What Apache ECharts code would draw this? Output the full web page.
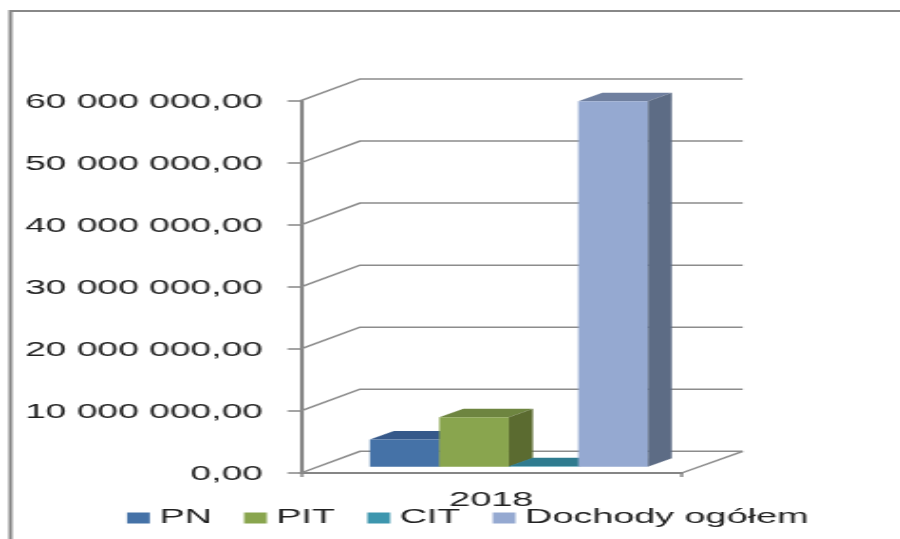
<!DOCTYPE html>
<html>
<head>
<meta charset="utf-8">
<style>
html,body{margin:0;padding:0;background:#fff;width:900px;height:539px;overflow:hidden}
#c{width:474px;height:539px;transform-origin:0 0;transform:scaleX(1.8987)}
</style>
<script src="https://cdn.jsdelivr.net/npm/echarts@6/dist/echarts.min.js"></script>
</head>
<body>
<div id="c"></div>
<script>
const categories = ['2018'];
const seriesNames = ['PN', 'PIT', 'CIT', 'Dochody ogółem'];
const pn = [4400000];
const pit = [7970000];
const cit = [100000];
const dochody = [58900000];
const yTicks = [0, 10000000, 20000000, 30000000, 40000000, 50000000, 60000000];
const frontColors = ['#4572A7', '#89A54E', '#3D96AE', '#95A9D1'];
const topColors = ['#36598A', '#6E8540', '#2F7B8F', '#6F7F9F'];
const sideColors = ['#2F4E75', '#5B6B30', '#276A7B', '#5D6C85'];

const S = 900 / 474;
const WALL_DX = 59 / S, WALL_DY = -21.7;
const WALL_EXTRA = 2 / S;
const BAR_DX = 24 / S, BAR_DY = -8.5;
const BASE_DY = -6.2;
const BAR_START = 0.181, BAR_W = 0.1825;

function barSeries(i, values) {
  return {
    name: seriesNames[i],
    type: 'custom',
    coordinateSystem: 'cartesian2d',
    clip: false,
    itemStyle: { color: frontColors[i] },
    encode: { x: 0, y: 1 },
    data: categories.map((c, k) => [c, values[k]]),
    renderItem(params, api) {
      const cat = api.value(0);
      const band = api.size([1, 0])[0];
      const top = api.coord([cat, api.value(1)]);
      const zero = api.coord([cat, 0]);
      const left = top[0] - band / 2 + (BAR_START + BAR_W * i) * band;
      const w = BAR_W * band;
      const yt = top[1] + BASE_DY, yb = zero[1] + BASE_DY;
      return {
        type: 'group',
        children: [
          { type: 'polygon', shape: { points: [[left, yt], [left + w, yt], [left + w + BAR_DX, yt + BAR_DY], [left + BAR_DX, yt + BAR_DY]] }, style: { fill: topColors[i] } },
          { type: 'polygon', shape: { points: [[left + w, yt], [left + w + BAR_DX, yt + BAR_DY], [left + w + BAR_DX, yb + BAR_DY], [left + w, yb]] }, style: { fill: sideColors[i] } },
          { type: 'rect', shape: { x: left, y: yt, width: w, height: yb - yt }, style: { fill: api.visual('color') } }
        ]
      };
    }
  };
}

const wallSeries = {
  name: 'wall',
  type: 'custom',
  coordinateSystem: 'cartesian2d',
  clip: false,
  silent: true,
  encode: { x: 0, y: 1 },
  data: yTicks.map(v => [categories[0], v]),
  renderItem(params, api) {
    const p = api.coord([api.value(0), api.value(1)]);
    const band = api.size([1, 0])[0];
    const x0 = p[0] - band / 2, x1 = p[0] + band / 2;
    const line = { stroke: '#8C8C8C', lineWidth: 1.5, fill: null };
    const children = [{
      type: 'polyline',
      shape: { points: [[x0, p[1]], [x0 + WALL_DX, p[1] + WALL_DY], [x1 + WALL_DX + WALL_EXTRA, p[1] + WALL_DY]] },
      style: line
    }];
    if (api.value(1) === 0) {
      children.push({
        type: 'line',
        shape: { x1: x1, y1: p[1], x2: x1 + WALL_DX + WALL_EXTRA, y2: p[1] + WALL_DY },
        style: line
      });
    }
    return { type: 'group', children };
  }
};

const chart = echarts.init(document.getElementById('c'), null, { width: 474, height: 539, renderer: 'canvas', devicePixelRatio: 1 });
chart.setOption({
  animation: false,
  backgroundColor: '#fff',
  textStyle: { fontFamily: 'Liberation Sans' },
  graphic: [{
    type: 'polyline',
    silent: true,
    shape: { points: [[5.5, 539], [5.5, 11], [474, 11]] },
    style: { stroke: '#888888', lineWidth: 2, fill: null }
  }],
  legend: {
    data: seriesNames,
    left: 66.9,
    top: 508,
    icon: 'rect',
    itemWidth: 12,
    itemHeight: 11,
    itemGap: 17,
    padding: 0,
    textStyle: { fontSize: 19.9, color: '#222', fontFamily: 'Liberation Sans' }
  },
  grid: { left: 158.5, width: 200.5, top: 100.7, bottom: 66 },
  xAxis: {
    type: 'category',
    data: categories,
    axisLine: { lineStyle: { color: '#868686', width: 2 } },
    axisTick: { show: true, length: 4, lineStyle: { color: '#868686', width: 1.5 } },
    axisLabel: { color: '#222', fontSize: 20, margin: 17, fontFamily: 'Liberation Sans' }
  },
  yAxis: {
    type: 'value',
    min: 0,
    max: 60000000,
    interval: 10000000,
    axisLine: { show: true, lineStyle: { color: '#868686', width: 2 } },
    axisTick: { show: true, length: 7, lineStyle: { color: '#868686', width: 1.5 } },
    splitLine: { show: false },
    axisLabel: {
      color: '#222',
      fontSize: 19.6,
      margin: 20,
      verticalAlign: 'top',
      lineHeight: 4,
      fontFamily: 'Liberation Sans',
      formatter: v => {
        const s = String(Math.round(v)).replace(/\B(?=(\d{3})+$)/g, ' ');
        return s + ',00';
      }
    }
  },
  series: [wallSeries, barSeries(0, pn), barSeries(1, pit), barSeries(2, cit), barSeries(3, dochody)]
});
</script>
</body>
</html>
